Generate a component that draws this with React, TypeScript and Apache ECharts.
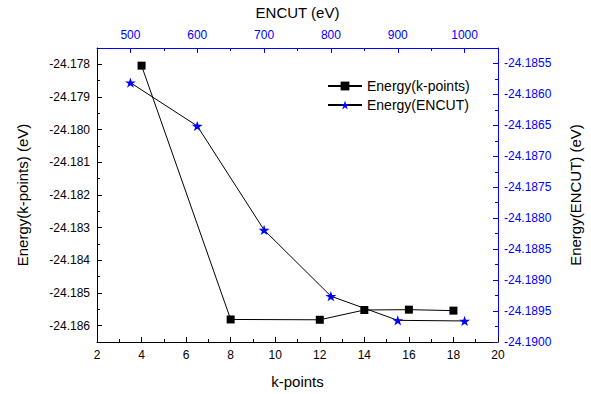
import React, { useEffect, useRef } from "react";
import * as echarts from "echarts";

const kPoints = [4, 8, 12, 14, 16, 18];
const energyK = [-24.17804, -24.18581, -24.18582, -24.18552, -24.18551, -24.18554];
const encut = [500, 600, 700, 800, 900, 1000];
const energyE = [-24.18581, -24.18651, -24.18819, -24.18926, -24.18965, -24.18966];

const leftLabels = [-24.178, -24.179, -24.18, -24.181, -24.182, -24.183, -24.184, -24.185, -24.186];
const rightLabels = [
  -24.1855, -24.186, -24.1865, -24.187, -24.1875, -24.188, -24.1885, -24.189, -24.1895, -24.19,
];
const topLabels = [500, 600, 700, 800, 900, 1000];

const FONT = "'Liberation Sans', Arial, Helvetica, sans-serif";
const BLUE = "#0000ff";
const BLACK = "#000000";

const STAR =
  "path://M50,0 L61.8,35.4 L100,35.4 L69.1,57.3 L80.9,92.7 L50,70.8 L19.1,92.7 L30.9,57.3 L0,35.4 L38.2,35.4 Z";

export default function App() {
  const ref = useRef<HTMLDivElement>(null);

  useEffect(() => {
    if (!ref.current) return;
    const chart = echarts.init(ref.current, undefined, { renderer: "svg" });

    const minorAxisBase = (color: string) => ({
      axisLine: { show: false, onZero: false },
      axisLabel: { show: false },
      splitLine: { show: false },
      axisTick: { show: true, inside: true, length: 3, lineStyle: { color, width: 1 } },
    });

    const option: any = {
      animation: false,
      backgroundColor: "#ffffff",
      grid: { left: 97, right: 82, top: 43, bottom: 45, containLabel: false },
      legend: {
        orient: "vertical",
        left: 322,
        top: 74,
        itemWidth: 34,
        itemHeight: 11,
        itemGap: 5,
        itemTextGap: 5,
        textStyle: { fontFamily: FONT, fontSize: 14, color: BLACK },
        data: ["Energy(k-points)", "Energy(ENCUT)"],
      },
      xAxis: [
        {
          type: "value",
          position: "bottom",
          min: 2,
          max: 20,
          interval: 2,
          name: "k-points",
          nameLocation: "middle",
          nameGap: 32,
          nameTextStyle: { fontFamily: FONT, fontSize: 15, color: BLACK },
          axisLine: { show: true, onZero: false, lineStyle: { color: BLACK, width: 1 } },
          axisTick: { show: true, inside: true, length: 5, lineStyle: { color: BLACK } },
          minorTick: { show: true, splitNumber: 2, length: 3, lineStyle: { color: BLACK } },
          axisLabel: { fontFamily: FONT, fontSize: 12, color: BLACK, margin: 7 },
          splitLine: { show: false },
        },
        {
          type: "value",
          position: "top",
          min: 450,
          max: 1050,
          interval: 50,
          name: "ENCUT (eV)",
          nameLocation: "middle",
          nameGap: 28,
          nameTextStyle: { fontFamily: FONT, fontSize: 15, color: BLACK },
          axisLine: { show: true, onZero: false, lineStyle: { color: BLUE, width: 1 } },
          axisTick: {
            show: true,
            inside: true,
            length: 5,
            customValues: topLabels,
            lineStyle: { color: BLUE },
          },
          axisLabel: {
            fontFamily: FONT,
            fontSize: 12,
            color: BLUE,
            margin: 7,
            customValues: topLabels,
            formatter: (v: number) => String(Math.round(v)),
          },
          splitLine: { show: false },
        },
        {
          type: "value",
          position: "top",
          min: 450,
          max: 1050,
          interval: 50,
          ...minorAxisBase(BLUE),
        },
      ],
      yAxis: [
        {
          type: "value",
          position: "left",
          min: -24.1865,
          max: -24.1775,
          interval: 0.0005,
          name: "Energy(k-points) (eV)",
          nameLocation: "middle",
          nameGap: 67,
          nameTextStyle: { fontFamily: FONT, fontSize: 15, color: BLACK },
          axisLine: { show: true, onZero: false, lineStyle: { color: BLACK, width: 1 } },
          axisTick: {
            show: true,
            inside: true,
            length: 5,
            customValues: leftLabels,
            lineStyle: { color: BLACK },
          },
          axisLabel: {
            fontFamily: FONT,
            fontSize: 12,
            color: BLACK,
            margin: 7,
            customValues: leftLabels,
            formatter: (v: number) => v.toFixed(3),
          },
          splitLine: { show: false },
        },
        {
          type: "value",
          position: "right",
          min: -24.19,
          max: -24.18525,
          interval: 0.00025,
          name: "Energy(ENCUT) (eV)",
          nameLocation: "middle",
          nameGap: 70,
          nameTextStyle: { fontFamily: FONT, fontSize: 15, color: BLACK },
          axisLine: { show: true, onZero: false, lineStyle: { color: BLUE, width: 1 } },
          axisTick: {
            show: true,
            inside: true,
            length: 5,
            customValues: rightLabels,
            lineStyle: { color: BLUE },
          },
          axisLabel: {
            fontFamily: FONT,
            fontSize: 12,
            color: BLUE,
            margin: 6,
            customValues: rightLabels,
            formatter: (v: number) => v.toFixed(4),
          },
          splitLine: { show: false },
        },
        {
          type: "value",
          position: "left",
          min: -24.1865,
          max: -24.1775,
          interval: 0.0005,
          ...minorAxisBase(BLACK),
        },
        {
          type: "value",
          position: "right",
          min: -24.19,
          max: -24.18525,
          interval: 0.00025,
          ...minorAxisBase(BLUE),
        },
      ],
      series: [
        {
          name: "Energy(k-points)",
          type: "line",
          xAxisIndex: 0,
          yAxisIndex: 0,
          data: kPoints.map((k, i) => [k, energyK[i]]),
          symbol: "rect",
          symbolSize: 8,
          itemStyle: { color: BLACK },
          lineStyle: { color: BLACK, width: 1 },
        },
        {
          name: "Energy(ENCUT)",
          type: "line",
          xAxisIndex: 1,
          yAxisIndex: 1,
          data: encut.map((e, i) => [e, energyE[i]]),
          symbol: STAR,
          symbolSize: 11,
          symbolKeepAspect: true,
          itemStyle: { color: BLUE },
          lineStyle: { color: BLACK, width: 1 },
        },
      ],
    };

    chart.setOption(option);
    return () => chart.dispose();
  }, []);

  return (
    <div
      ref={ref}
      style={{ position: "fixed", left: 0, top: 0, width: 591, height: 394, background: "#fff" }}
    />
  );
}
